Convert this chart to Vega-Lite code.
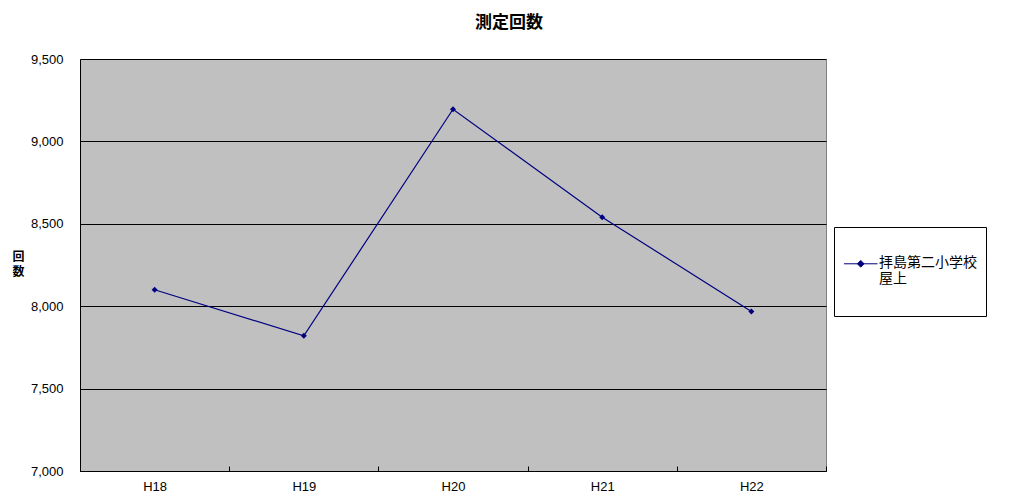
{
  "$schema": "https://vega.github.io/schema/vega-lite/v6.json",
  "width": 746,
  "height": 412,
  "autosize": {"type": "none"},
  "padding": {"left": 80, "top": 59, "right": 195, "bottom": 22},
  "background": "white",
  "config": {
    "font": "Noto Sans CJK JP",
    "view": {"fill": "#C0C0C0", "stroke": "#808080", "strokeWidth": 1}
  },
  "title": {
    "text": "測定回数",
    "fontSize": 17,
    "fontWeight": "bold",
    "color": "#000000",
    "anchor": "middle",
    "frame": "group",
    "dx": 56,
    "offset": 21
  },
  "data": {
    "values": [
      {"year": "H18", "count": 8100, "site": "拝島第二小学校屋上"},
      {"year": "H19", "count": 7820, "site": "拝島第二小学校屋上"},
      {"year": "H20", "count": 9195, "site": "拝島第二小学校屋上"},
      {"year": "H21", "count": 8540, "site": "拝島第二小学校屋上"},
      {"year": "H22", "count": 7968, "site": "拝島第二小学校屋上"}
    ]
  },
  "mark": {
    "type": "line",
    "strokeWidth": 1.2,
    "point": {"shape": "diamond", "size": 36, "filled": true, "color": "#000080"}
  },
  "encoding": {
    "x": {
      "field": "year",
      "type": "ordinal",
      "scale": {"type": "band", "paddingInner": 0, "paddingOuter": 0},
      "axis": {
        "title": null,
        "labelAngle": 0,
        "tickBand": "extent",
        "tickSize": -5,
        "tickColor": "#000000",
        "domainColor": "#000000",
        "labelColor": "#000000",
        "labelFont": "Liberation Sans",
        "labelFontSize": 13,
        "labelPadding": 14,
        "grid": false
      }
    },
    "y": {
      "field": "count",
      "type": "quantitative",
      "scale": {"domain": [7000, 9500], "nice": false, "zero": false},
      "axis": {
        "values": [7000, 7500, 8000, 8500, 9000, 9500],
        "format": ",.0f",
        "grid": true,
        "gridColor": "#000000",
        "gridOpacity": 1,
        "gridWidth": 1,
        "ticks": false,
        "domainColor": "#000000",
        "labelColor": "#000000",
        "labelFont": "Liberation Sans",
        "labelFontSize": 13,
        "labelPadding": 17,
        "title": ["回", "数"],
        "titleAngle": 0,
        "titleAlign": "center",
        "titleBaseline": "top",
        "titleX": -62,
        "titleY": 192,
        "titleFontSize": 12,
        "titleFontWeight": "bold",
        "titleColor": "#000000",
        "titleLineHeight": 15
      }
    },
    "color": {
      "field": "site",
      "type": "nominal",
      "scale": {"range": ["#000080"]},
      "legend": {
        "title": null,
        "orient": "none",
        "legendX": 754,
        "legendY": 168,
        "fillColor": "#ffffff",
        "strokeColor": "#000000",
        "padding": 9,
        "symbolType": "M0,-1M0,1M-1,-0.2H0M-0.6,-0.2L-0.5,-0.3L-0.4,-0.2L-0.5,-0.1Z",
        "symbolSize": 4500,
        "symbolStrokeWidth": 1,
        "labelOffset": -33,
        "labelFontSize": 14,
        "labelColor": "#000000",
        "labelLimit": 300,
        "labelLineHeight": 19,
        "labelExpr": "[substring(datum.label, 0, 7), substring(datum.label, 7)]",
        "encode": {
          "symbols": {"update": {"fill": {"value": "#000080"}, "stroke": {"value": "#000080"}}},
          "labels": {"update": {"dy": {"value": -8}}}
        }
      }
    }
  }
}
